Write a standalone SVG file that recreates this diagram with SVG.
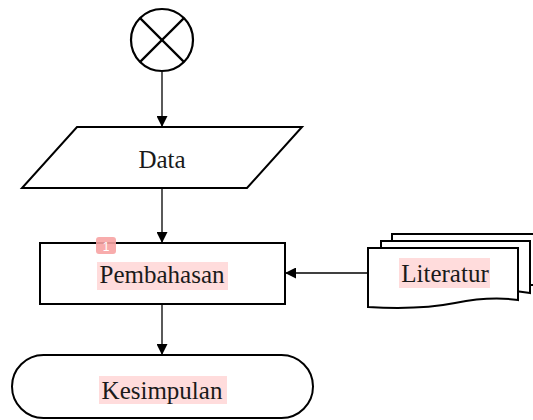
<svg xmlns="http://www.w3.org/2000/svg" width="533" height="420" viewBox="0 0 533 420">
<style>
.s{fill:#fff;stroke:#000;stroke-width:2}
.t{font-family:'Liberation Serif','Times New Roman','DejaVu Serif',serif;font-size:25px;fill:#1a1a1a;text-anchor:middle}
.c{stroke:#000;stroke-width:1.3;fill:none}
.x{stroke:#000;stroke-width:2.2;fill:none}
.hl{fill:#ffd6d6;opacity:0.85}
</style>
<defs>
<marker id="a" viewBox="0 0 10 10" refX="10" refY="5" markerWidth="11" markerHeight="11" markerUnits="userSpaceOnUse" orient="auto">
<path d="M0,0L10,5L0,10z" fill="#000"/>
</marker>
</defs>
<rect width="533" height="420" fill="#fff"/>
<g id="connectors">
<line class="c" x1="162" y1="72" x2="162" y2="127" marker-end="url(#a)"/>
<line class="c" x1="162" y1="188" x2="162" y2="243" marker-end="url(#a)"/>
<line class="c" x1="162" y1="304" x2="162" y2="355" marker-end="url(#a)"/>
<line class="c" x1="368" y1="273" x2="285" y2="273" marker-end="url(#a)"/>
</g>
<g id="start">
<circle class="x" cx="162" cy="40" r="31" fill="#fff"/>
<line class="x" x1="140.1" y1="18.1" x2="183.9" y2="61.9"/>
<line class="x" x1="183.9" y1="18.1" x2="140.1" y2="61.9"/>
</g>
<g id="data">
<polygon class="s" points="77,127 302,127 247,188 22,188"/>
<text class="t" x="162" y="168" font-family="Liberation Serif, serif">Data</text>
</g>
<g id="pembahasan">
<rect class="s" x="40" y="243" width="245" height="61"/>
<rect class="hl" x="97" y="262" width="131" height="28"/>
<text class="t" x="162" y="283" font-family="Liberation Serif, serif">Pembahasan</text>
<rect x="96" y="237" width="20" height="17" rx="3" fill="#f7a3a3" opacity="0.9"/>
<text x="106" y="251" font-family="Liberation Sans, sans-serif" font-size="12" fill="#fff" text-anchor="middle">1</text>
</g>
<g id="literatur">
<path class="s" d="M392,234 H540 V285 H392 Z"/>
<path class="s" d="M381,241 H530 V293 Q500,288 470,296 Q440,304 381,300 Z"/>
<path class="s" d="M368,248 H518 V300 Q490,296 455,303 Q420,310 368,307 Z"/>
<rect class="hl" x="399" y="258" width="91" height="30"/>
<text class="t" x="445" y="282" font-family="Liberation Serif, serif">Literatur</text>
</g>
<g id="kesimpulan">
<rect class="s" x="12" y="355" width="301" height="63" rx="31.5"/>
<rect class="hl" x="99" y="376" width="128" height="28"/>
<text class="t" x="162" y="399" font-family="Liberation Serif, serif">Kesimpulan</text>
</g>
</svg>
